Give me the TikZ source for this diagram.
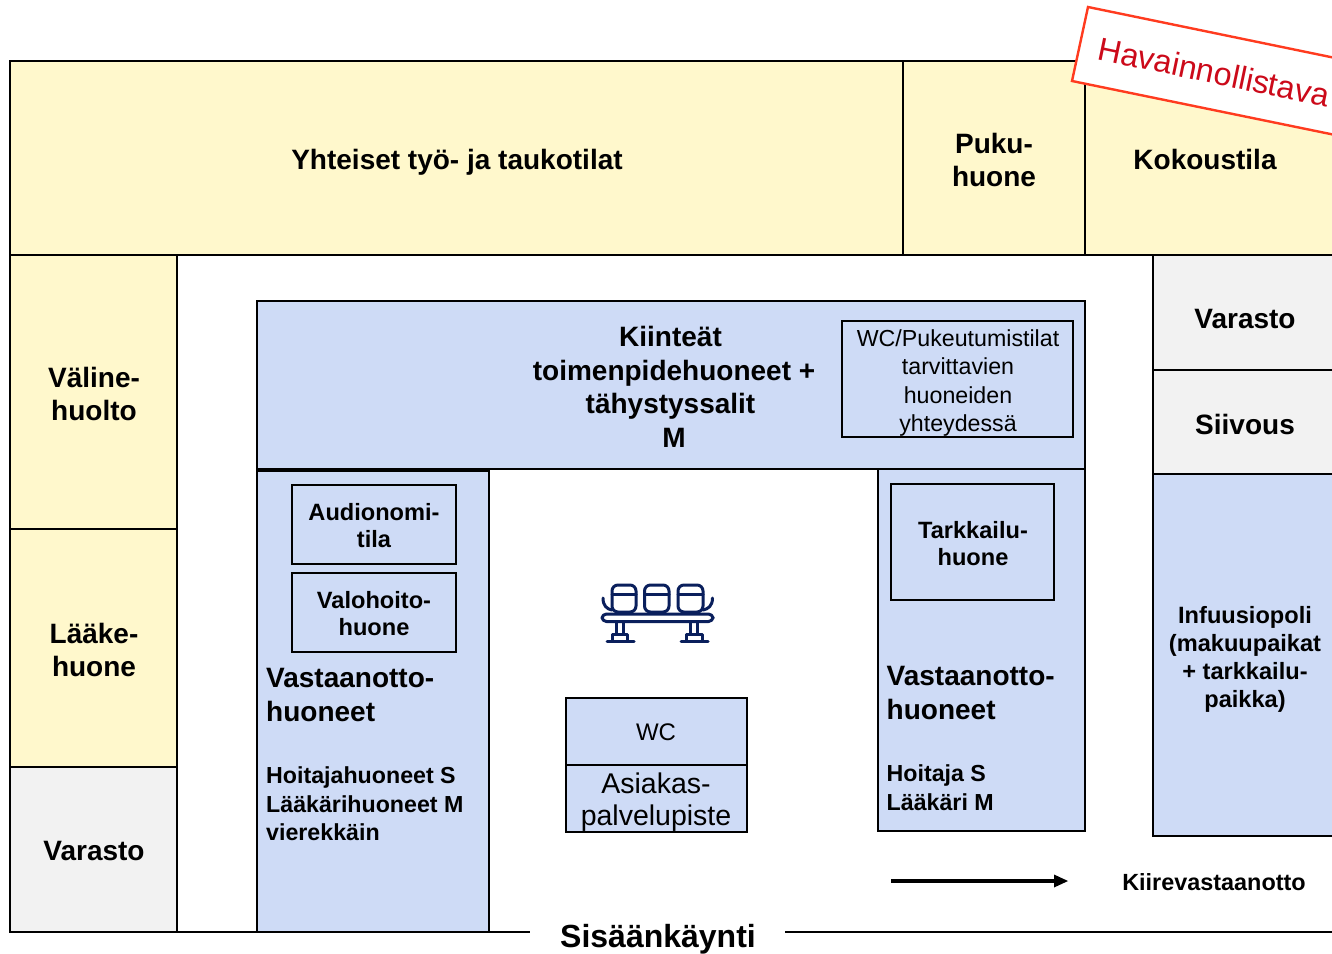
\documentclass[tikz,border=0pt]{standalone}
\usepackage{fontspec}
\setmainfont{Liberation Sans}
\definecolor{yel}{HTML}{FFF8CC}
\definecolor{blu}{HTML}{CEDBF6}
\definecolor{gry}{HTML}{F2F2F2}
\definecolor{navy}{HTML}{0A1F5C}
\definecolor{redline}{HTML}{FF3B1F}
\definecolor{redtext}{HTML}{CC0A1A}
\tikzset{
 room/.style={draw=black,line width=2.4pt,inner sep=0pt,outer sep=0pt},
 lab/.style={inner sep=0pt,align=center,text=black},
 big/.style={lab,font=\fontsize{28}{33.5}\selectfont\bfseries},
 mid/.style={lab,font=\fontsize{23.6}{27}\selectfont\bfseries},
 low/.style={lab,anchor=north west,align=left,font=\fontsize{23.2}{28.5}\selectfont\bfseries},
 vast/.style={lab,anchor=north west,align=left,font=\fontsize{28}{34}\selectfont\bfseries},
 ic/.style={draw=navy,line width=3pt,line cap=round,line join=round}
}
\begin{document}
\begin{tikzpicture}[x=1pt,y=-1pt]
\useasboundingbox (0,0) rectangle (1332,953);
\clip (0,0) rectangle (1332,953);
\fill[white] (0,0) rectangle (1332,953);
% rooms
\draw[room,fill=yel] (10,61) rectangle (903,255);
\draw[room,fill=yel] (903,61) rectangle (1085,255);
\draw[room,fill=yel] (1085,61) rectangle (1345,255);
\draw[room,fill=yel] (10,255) rectangle (177,529);
\draw[room,fill=yel] (10,529) rectangle (177,767);
\draw[room,fill=gry] (10,767) rectangle (177,932);
\draw[room,fill=gry] (1153,255) rectangle (1345,370);
\draw[room,fill=gry] (1153,370) rectangle (1345,474);
\draw[room,fill=blu] (1153,474) rectangle (1345,836);
\draw[room,fill=blu] (257,301) rectangle (1085,469);
\draw[room,fill=blu] (257,471) rectangle (489,932);
\draw[room,fill=blu] (878,469) rectangle (1085,831);
\draw[room,fill=blu] (842,321) rectangle (1073,437);
\draw[room,fill=blu] (292,485) rectangle (456,564);
\draw[room,fill=blu] (292,573) rectangle (456,652);
\draw[room,fill=blu] (891,484) rectangle (1054,600);
\draw[room,fill=blu] (566,698) rectangle (747,765);
\draw[room,fill=blu] (566,765) rectangle (747,832);
% labels
\node[big] (yht) at (457,162) {Yhteiset työ- ja taukotilat};
\node[big] (puk) at (994,160) {Puku-\\huone};
\node[big] (kok) at (1205,159) {Kokoustila};
\node[big] (val) at (94,394) {Väline-\\huolto};
\node[big] (laa) at (94,650) {Lääke-\\huone};
\node[big] (va1) at (94,851) {Varasto};
\node[big] (va2) at (1245,319) {Varasto};
\node[big] (sii) at (1245,424) {Siivous};
\node[big] (kii) at (670.5,387) {Kiinteät\\\hspace*{7pt}toimenpidehuoneet +\\tähystyssalit\\\hspace*{7pt}M};
\node[lab,font=\fontsize{23.2}{28.5}\selectfont] (wcp) at (958,383) {WC/Pukeutumistilat\\tarvittavien\\huoneiden\\yhteydessä};
\node[mid] (aud) at (374,526) {Audionomi-\\tila};
\node[mid] (vah) at (374,614) {Valohoito-\\huone};
\node[mid] (tar) at (973,544) {Tarkkailu-\\huone};
\node[lab,font=\fontsize{23.6}{28}\selectfont\bfseries] (inf) at (1245,659) {Infuusiopoli\\(makuupaikat\\+ tarkkailu-\\paikka)};
\node[vast] (vo1) at (266,668) {Vastaanotto-\\huoneet};
\node[low] (ho1) at (266,766.5) {Hoitajahuoneet S\\Lääkärihuoneet M\\vierekkäin};
\node[vast] (vo2) at (886.5,666) {Vastaanotto-\\huoneet};
\node[low] (ho2) at (886.5,764.5) {Hoitaja S\\Lääkäri M};
\node[lab,font=\fontsize{24}{29}\selectfont] (wc) at (656,732) {WC};
\node[lab,font=\fontsize{28.5}{32}\selectfont] (asi) at (656,802) {Asiakas-\\palvelupiste};
\node[lab,font=\fontsize{23.4}{27}\selectfont\bfseries] (kir) at (1214,882) {Kiirevastaanotto};
% entrance and bottom line
\coordinate (b0) at (10,932);
\coordinate (b1) at (1345,932);
\node[lab,font=\fontsize{32}{32}\selectfont\bfseries] (sis) at (658,939) {Sisäänkäynti};
\draw[black,line width=2.4pt] (b0) -- (530,932);
\draw[black,line width=2.4pt] (785,932) -- (b1);
% arrow
\coordinate (a0) at (891,881);
\coordinate (a1) at (1068,881);
\fill (1054,874.5) -- (a1) -- (1054,887.5) -- cycle;
\draw[black,line width=3.2pt] (a0) -- (1056,881);
% icon
\draw[ic,rounded corners=6pt] (612,585) rectangle (636,612);
\draw[ic] (612,594) -- (636,594);
\draw[ic,rounded corners=6pt] (644.5,585) rectangle (669,612);
\draw[ic] (644.5,594) -- (669,594);
\draw[ic,rounded corners=6pt] (678,585) rectangle (703,612);
\draw[ic] (678,594) -- (703,594);
\draw[ic,fill=white,rounded corners=4.4pt] (602,614) rectangle (713,621.5);
\draw[ic] (603,598) .. controls (603,606) and (607,609) .. (612,610);
\draw[ic] (712.5,598) .. controls (712.5,606) and (708,609) .. (703,610);
\draw[ic] (616,622) -- (616,634) (623,622) -- (623,634);
\draw[ic] (612.5,641) -- (612.5,634.5) -- (627,634.5) -- (627,641) (607,641) -- (634,641);
\draw[ic] (690,622) -- (690,634) (697,622) -- (697,634);
\draw[ic] (686.5,641) -- (686.5,634.5) -- (702,634.5) -- (702,641) (681,641) -- (708,641);
% stamp
\draw[fill=white,draw=redline,line width=2.4pt] (1088,7) -- (1072,81) -- (1345,137) -- (1345,60) -- cycle;
\node[lab,rotate=-11.8,font=\fontsize{32.3}{32}\selectfont,text=redtext] (hav) at (1214,72) {Havainnollistava};
\end{tikzpicture}
\end{document}
